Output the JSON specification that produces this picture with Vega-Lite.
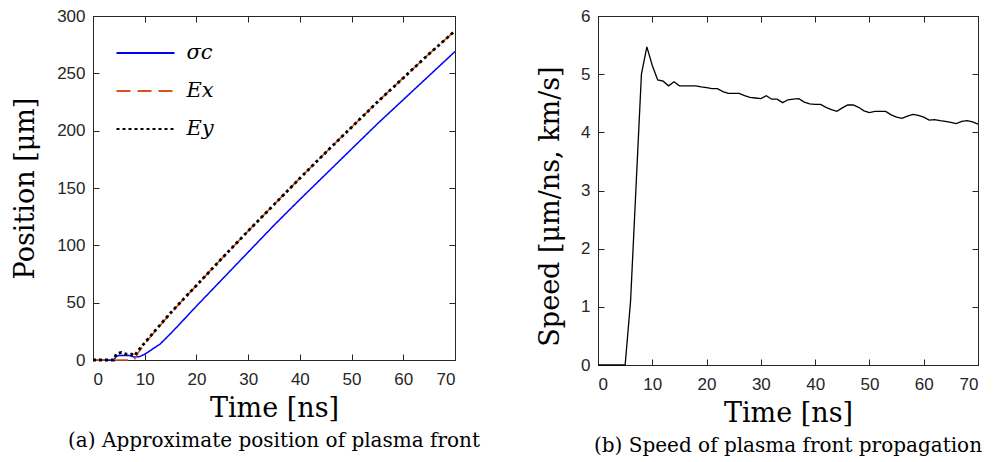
{
  "$schema": "https://vega.github.io/schema/vega-lite/v6.json",
  "background": "white",
  "padding": {"left": 11, "top": 6, "right": 5, "bottom": 0},
  "spacing": 55,
  "config": {
    "view": {"stroke": "#262626"},
    "axis": {
      "domainColor": "#262626", "tickColor": "#262626", "labelColor": "#262626",
      "labelFont": "Liberation Sans", "labelFontSize": 17,
      "titleFont": "DejaVu Serif", "titleFontSize": 27, "titleFontWeight": "normal", "titleColor": "black",
      "grid": false, "tickSize": -6, "domainWidth": 1, "tickWidth": 1
    },
    "axisX": {"labelPadding": 17},
    "axisY": {"labelPadding": 14},
    "title": {"font": "DejaVu Serif", "fontSize": 20, "fontWeight": "normal", "color": "black"}
  },
  "datasets": {
    "pos": [
      {"t": 0, "v": 0, "s": "σc"}, {"t": 2, "v": 0, "s": "σc"}, {"t": 4, "v": 0, "s": "σc"}, {"t": 4.5, "v": 3, "s": "σc"},
      {"t": 5, "v": 4, "s": "σc"}, {"t": 6, "v": 4, "s": "σc"}, {"t": 7, "v": 4, "s": "σc"}, {"t": 8, "v": 2.5, "s": "σc"},
      {"t": 9, "v": 3, "s": "σc"}, {"t": 10, "v": 5, "s": "σc"}, {"t": 11, "v": 8, "s": "σc"}, {"t": 12, "v": 11, "s": "σc"},
      {"t": 13, "v": 14, "s": "σc"}, {"t": 15, "v": 23, "s": "σc"}, {"t": 17, "v": 32.5, "s": "σc"}, {"t": 20, "v": 47, "s": "σc"},
      {"t": 25, "v": 70.5, "s": "σc"}, {"t": 30, "v": 94, "s": "σc"}, {"t": 35, "v": 117.5, "s": "σc"}, {"t": 40, "v": 140, "s": "σc"},
      {"t": 45, "v": 162, "s": "σc"}, {"t": 50, "v": 184, "s": "σc"}, {"t": 55, "v": 206, "s": "σc"}, {"t": 60, "v": 227, "s": "σc"},
      {"t": 65, "v": 248, "s": "σc"}, {"t": 70, "v": 269, "s": "σc"},
      {"t": 0, "v": 0, "s": "Ex"}, {"t": 4, "v": 0, "s": "Ex"}, {"t": 8, "v": 0, "s": "Ex"}, {"t": 8.7, "v": 6, "s": "Ex"},
      {"t": 10, "v": 14, "s": "Ex"}, {"t": 12, "v": 25, "s": "Ex"}, {"t": 14, "v": 35.5, "s": "Ex"}, {"t": 16, "v": 45.5, "s": "Ex"},
      {"t": 18, "v": 55.5, "s": "Ex"}, {"t": 20, "v": 65, "s": "Ex"}, {"t": 25, "v": 89, "s": "Ex"}, {"t": 30, "v": 112.5, "s": "Ex"},
      {"t": 35, "v": 135.5, "s": "Ex"}, {"t": 40, "v": 158.5, "s": "Ex"}, {"t": 45, "v": 181, "s": "Ex"}, {"t": 50, "v": 203, "s": "Ex"},
      {"t": 55, "v": 225, "s": "Ex"}, {"t": 60, "v": 246, "s": "Ex"}, {"t": 65, "v": 267, "s": "Ex"}, {"t": 70, "v": 287, "s": "Ex"},
      {"t": 0, "v": 0, "s": "Ey"}, {"t": 4, "v": 0, "s": "Ey"}, {"t": 4.5, "v": 5.5, "s": "Ey"}, {"t": 5.5, "v": 6.5, "s": "Ey"},
      {"t": 6.5, "v": 5, "s": "Ey"}, {"t": 7.5, "v": 5, "s": "Ey"}, {"t": 8, "v": 3.5, "s": "Ey"}, {"t": 8.7, "v": 8, "s": "Ey"},
      {"t": 10, "v": 15, "s": "Ey"}, {"t": 12, "v": 25.5, "s": "Ey"}, {"t": 14, "v": 36, "s": "Ey"}, {"t": 16, "v": 46, "s": "Ey"},
      {"t": 18, "v": 55.5, "s": "Ey"}, {"t": 20, "v": 65, "s": "Ey"}, {"t": 25, "v": 89, "s": "Ey"}, {"t": 30, "v": 112.5, "s": "Ey"},
      {"t": 35, "v": 135.5, "s": "Ey"}, {"t": 40, "v": 158.5, "s": "Ey"}, {"t": 45, "v": 181, "s": "Ey"}, {"t": 50, "v": 203, "s": "Ey"},
      {"t": 55, "v": 225, "s": "Ey"}, {"t": 60, "v": 246, "s": "Ey"}, {"t": 65, "v": 267, "s": "Ey"}, {"t": 70, "v": 287, "s": "Ey"}
    ],
    "speed": [
      {"t": 0, "v": 0}, {"t": 5, "v": 0}, {"t": 6, "v": 1.1}, {"t": 7, "v": 3.05}, {"t": 8, "v": 5.0}, {"t": 9, "v": 5.47},
      {"t": 10, "v": 5.15}, {"t": 11, "v": 4.9}, {"t": 12, "v": 4.88}, {"t": 13, "v": 4.8}, {"t": 14, "v": 4.87}, {"t": 15, "v": 4.8},
      {"t": 16, "v": 4.8}, {"t": 17, "v": 4.8}, {"t": 18, "v": 4.8}, {"t": 19, "v": 4.78}, {"t": 20, "v": 4.77}, {"t": 21, "v": 4.75},
      {"t": 22, "v": 4.75}, {"t": 23, "v": 4.7}, {"t": 24, "v": 4.67}, {"t": 25, "v": 4.67}, {"t": 26, "v": 4.67}, {"t": 27, "v": 4.63},
      {"t": 28, "v": 4.6}, {"t": 29, "v": 4.59}, {"t": 30, "v": 4.58}, {"t": 31, "v": 4.63}, {"t": 32, "v": 4.57}, {"t": 33, "v": 4.57},
      {"t": 34, "v": 4.51}, {"t": 35, "v": 4.56}, {"t": 36, "v": 4.57}, {"t": 37, "v": 4.58}, {"t": 38, "v": 4.52}, {"t": 39, "v": 4.49},
      {"t": 40, "v": 4.48}, {"t": 41, "v": 4.48}, {"t": 42, "v": 4.43}, {"t": 43, "v": 4.39}, {"t": 44, "v": 4.36}, {"t": 45, "v": 4.42},
      {"t": 46, "v": 4.47}, {"t": 47, "v": 4.47}, {"t": 48, "v": 4.43}, {"t": 49, "v": 4.37}, {"t": 50, "v": 4.34}, {"t": 51, "v": 4.36},
      {"t": 52, "v": 4.36}, {"t": 53, "v": 4.36}, {"t": 54, "v": 4.3}, {"t": 55, "v": 4.26}, {"t": 56, "v": 4.24}, {"t": 57, "v": 4.28},
      {"t": 58, "v": 4.31}, {"t": 59, "v": 4.29}, {"t": 60, "v": 4.26}, {"t": 61, "v": 4.21}, {"t": 62, "v": 4.22}, {"t": 63, "v": 4.2},
      {"t": 64, "v": 4.19}, {"t": 65, "v": 4.17}, {"t": 66, "v": 4.15}, {"t": 67, "v": 4.19}, {"t": 68, "v": 4.2}, {"t": 69, "v": 4.18},
      {"t": 70, "v": 4.14}
    ]
  },
  "hconcat": [
    {
      "width": 362, "height": 344,
      "title": {"text": "(a) Approximate position of plasma front", "orient": "bottom", "frame": "group", "anchor": "middle", "offset": 10},
      "data": {"name": "pos"},
      "layer": [
        {
          "layer": [
            {
              "transform": [{"filter": "datum.s === 'σc'"}],
              "mark": {"type": "line", "strokeCap": "butt", "strokeWidth": 1.5}
            },
            {
              "transform": [{"filter": "datum.s === 'Ex'"}],
              "mark": {"type": "line", "strokeCap": "butt", "strokeWidth": 1.6}
            },
            {
              "transform": [{"filter": "datum.s === 'Ey'"}],
              "mark": {"type": "line", "strokeCap": "butt", "strokeWidth": 2.8}
            }
          ],
          "encoding": {
            "x": {"field": "t", "type": "quantitative", "scale": {"domain": [0, 70], "nice": false},
                  "axis": {"values": [0, 10, 20, 30, 40, 50, 60, 70], "title": "Time [ns]", "titlePadding": 8}},
            "y": {"field": "v", "type": "quantitative", "scale": {"domain": [0, 300], "nice": false},
                  "axis": {"values": [0, 50, 100, 150, 200, 250, 300], "title": "Position [μm]", "titlePadding": 17}},
            "color": {"field": "s", "type": "nominal",
                      "scale": {"domain": ["σc", "Ex", "Ey"], "range": ["#0000FF", "#D95319", "#000000"]},
                      "legend": {"title": null, "orient": "none", "legendX": 41.5, "legendY": 26,
                                 "symbolType": "M-3,0H3", "symbolSize": 374, "padding": 0, "symbolStrokeWidth": 2,
                                 "labelFont": "DejaVu Serif", "labelFontStyle": "italic", "labelFontSize": 21,
                                 "labelColor": "black", "labelOffset": 30, "rowPadding": 17}},
            "strokeDash": {"field": "s", "type": "nominal",
                           "scale": {"domain": ["σc", "Ex", "Ey"], "range": [[1, 0], [14, 7], [3, 3]]}}
          }
        },
        {
          "mark": {"type": "line", "opacity": 0},
          "encoding": {
            "x": {"field": "t", "type": "quantitative",
                  "axis": {"orient": "top", "values": [0, 10, 20, 30, 40, 50, 60, 70], "labels": false, "title": null}},
            "y": {"field": "v", "type": "quantitative",
                  "axis": {"orient": "right", "values": [0, 50, 100, 150, 200, 250, 300], "labels": false, "title": null}}
          }
        }
      ],
      "resolve": {"axis": {"x": "independent", "y": "independent"}}
    },
    {
      "width": 380, "height": 349,
      "title": {"text": "(b) Speed of plasma front propagation", "orient": "bottom", "frame": "group", "anchor": "middle", "offset": 10},
      "data": {"name": "speed"},
      "layer": [
        {
          "mark": {"type": "line", "color": "black", "strokeWidth": 1.3},
          "encoding": {
            "x": {"field": "t", "type": "quantitative", "scale": {"domain": [0, 70], "nice": false},
                  "axis": {"values": [0, 10, 20, 30, 40, 50, 60, 70], "title": "Time [ns]", "titlePadding": 8}},
            "y": {"field": "v", "type": "quantitative", "scale": {"domain": [0, 6], "nice": false},
                  "axis": {"values": [0, 1, 2, 3, 4, 5, 6], "title": "Speed [μm/ns, km/s]", "titlePadding": 16, "titleY": 190}}
          }
        },
        {
          "mark": {"type": "line", "opacity": 0},
          "encoding": {
            "x": {"field": "t", "type": "quantitative",
                  "axis": {"orient": "top", "values": [0, 10, 20, 30, 40, 50, 60, 70], "labels": false, "title": null}},
            "y": {"field": "v", "type": "quantitative",
                  "axis": {"orient": "right", "values": [0, 1, 2, 3, 4, 5, 6], "labels": false, "title": null}}
          }
        }
      ],
      "resolve": {"axis": {"x": "independent", "y": "independent"}}
    }
  ]
}
